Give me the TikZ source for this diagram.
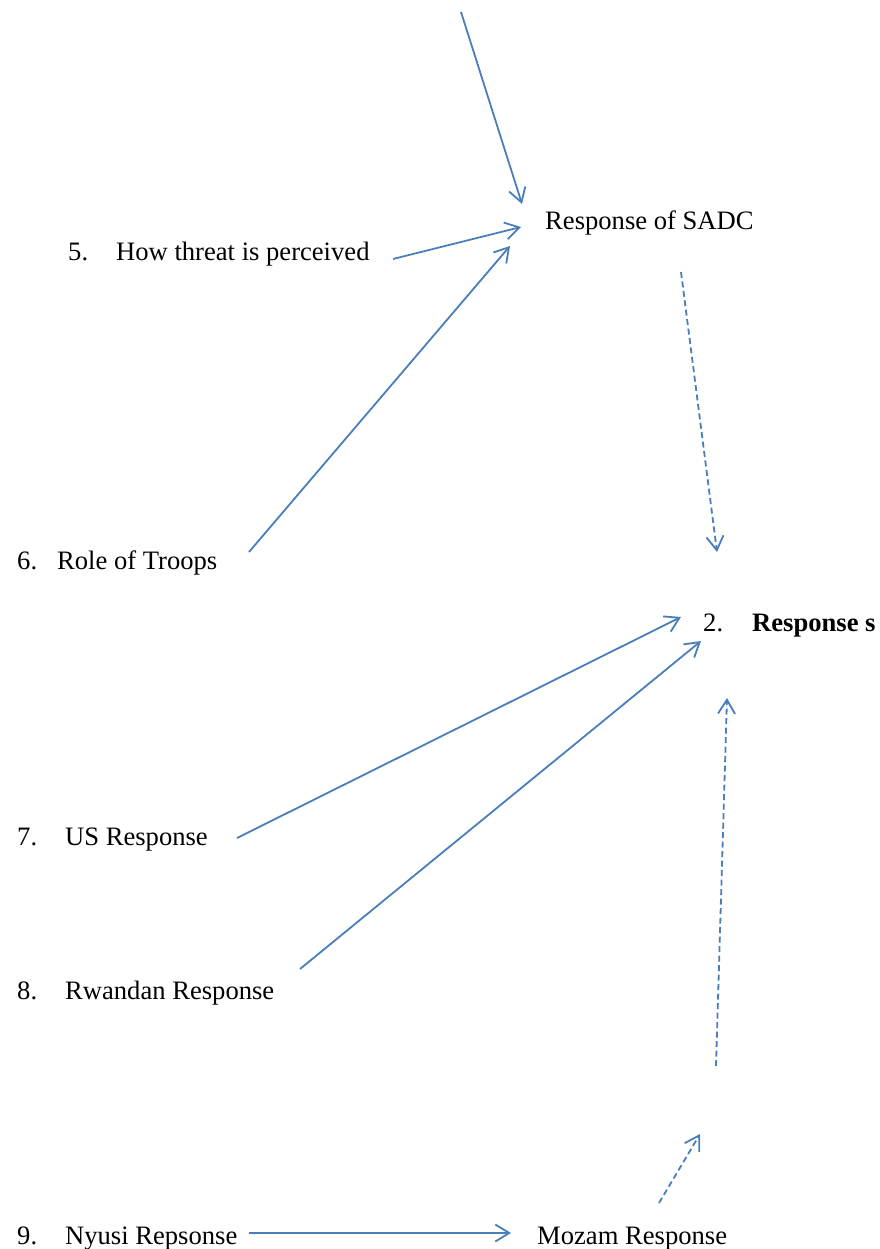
\documentclass[tikz,border=0pt]{standalone}
\usepackage{fontspec}
\setmainfont{Liberation Serif}
\usetikzlibrary{arrows.meta}
\definecolor{linkblue}{HTML}{4A7EBB}
\begin{document}
\begin{tikzpicture}[x=1pt,y=-1pt,
  lbl/.style={inner sep=0pt,anchor=base west,font=\fontsize{26.6}{32}\selectfont},
  link/.style={draw=linkblue,line width=1.8pt,-{Straight Barb[length=14pt,width=17pt,line width=1.8pt]}},
  dlink/.style={link,dash pattern=on 6pt off 3.5pt}]
\useasboundingbox (0,0) rectangle (879,1249);
% labels
\node[lbl] (sadc) at (545,230) {Response of SADC};
\node[lbl] (threat) at (68,261) {\makebox[48pt][l]{5.}How threat is perceived};
\node[lbl] (troops) at (17,569) {\makebox[40pt][l]{6.}Role of Troops};
\node[lbl] (resp) at (703,631) {\makebox[49pt][l]{2.}\textbf{Response s}};
\node[lbl] (us) at (17,845) {\makebox[48pt][l]{7.}US Response};
\node[lbl] (rw) at (17,999) {\makebox[48pt][l]{8.}Rwandan Response};
\node[lbl] (nyusi) at (17,1244) {\makebox[48pt][l]{9.}Nyusi Repsonse};
\node[lbl] (mozam) at (537,1244) {Mozam Response};
% connector end points
\coordinate (top) at (461,12);
\coordinate (sadcA) at (522,204);
\coordinate (sadcB) at (521,227);
\coordinate (sadcC) at (510,246);
\coordinate (threatE) at (393,259);
\coordinate (troopsE) at (249,552);
\coordinate (sadcOut) at (681,272);
\coordinate (respTop) at (717,552);
\coordinate (usE) at (237,838);
\coordinate (respA) at (681,617);
\coordinate (rwE) at (300,969);
\coordinate (respB) at (701,641);
\coordinate (midBot) at (716,1066);
\coordinate (respBot) at (727,698);
\coordinate (mozTop) at (659,1203);
\coordinate (mozTip) at (700,1134);
\coordinate (nyusiE) at (249,1233);
\coordinate (mozamW) at (511,1233);
% connectors
\draw[link] (top) -- (sadcA);
\draw[link] (threatE) -- (sadcB);
\draw[link] (troopsE) -- (sadcC);
\draw[dlink] (sadcOut) -- (respTop);
\draw[link] (usE) -- (respA);
\draw[link] (rwE) -- (respB);
\draw[dlink] (midBot) -- (respBot);
\draw[dlink] (mozTop) -- (mozTip);
\draw[link] (nyusiE) -- (mozamW);
\end{tikzpicture}
\end{document}
